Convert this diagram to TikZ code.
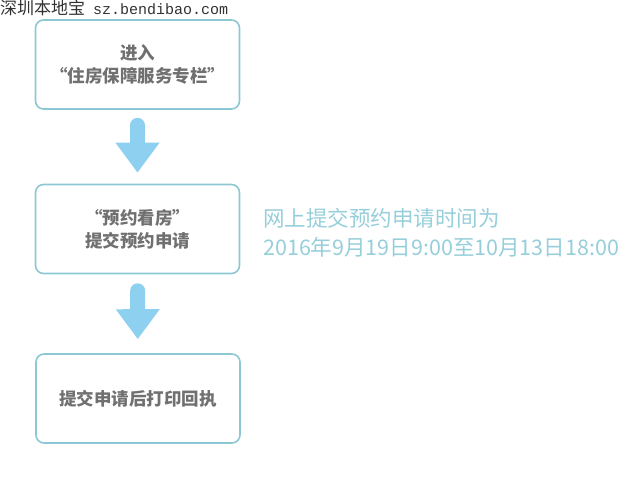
\documentclass[tikz,border=0pt]{standalone}
\usepackage{fontspec}
\setmainfont{Noto Sans CJK SC}
\setmonofont{Liberation Mono}
\newfontfamily\cjk{Noto Sans CJK SC}
\usetikzlibrary{arrows.meta}
\definecolor{boxline}{RGB}{140,200,212}
\definecolor{arrowblue}{RGB}{142,208,240}
\definecolor{boxtext}{RGB}{112,112,112}
\definecolor{notetext}{RGB}{150,206,218}
\definecolor{marktext}{RGB}{50,50,50}

\begin{document}
\begin{tikzpicture}[x=1pt,y=-1pt,
  stepbox/.style={draw=boxline, line width=1.6pt, rounded corners=8pt,
    minimum width=204pt, minimum height=89pt, align=center,
    text=boxtext, font=\cjk\bfseries\fontsize{17.5}{23}\selectfont},
  downarrow/.style={draw=arrowblue, line width=15pt, line cap=round,
    -{Triangle[width=42pt,length=30pt]}}]
\useasboundingbox (0,0) rectangle (640,485);
\node[anchor=north west, inner sep=0pt, text=marktext] (mark) at (0,0)
  {{\cjk\fontsize{17}{17}\selectfont 深圳本地宝}\hspace{8pt}{\ttfamily\fontsize{15}{15}\selectfont sz.bendibao.com}};
\node[stepbox] (enter) at (137.5,64.5) {进入\\“住房保障服务专栏”};
\node[stepbox] (apply) at (137.5,229) {“预约看房”\\提交预约申请};
\node[stepbox] (print) at (138,398.5) {提交申请后打印回执};
\node[anchor=west, align=left, text=notetext, inner sep=0pt,
  font=\cjk\fontsize{21.5}{29}\selectfont] (note) at (263,232.5)
  {网上提交预约申请时间为\\2016年9月19日9:00至10月13日18:00};
\draw[downarrow, shorten <=15.5pt, shorten >=11pt] (enter) -- (apply);
\draw[downarrow, shorten <=16.5pt, shorten >=14pt] (apply) -- (print);
\end{tikzpicture}
\end{document}
